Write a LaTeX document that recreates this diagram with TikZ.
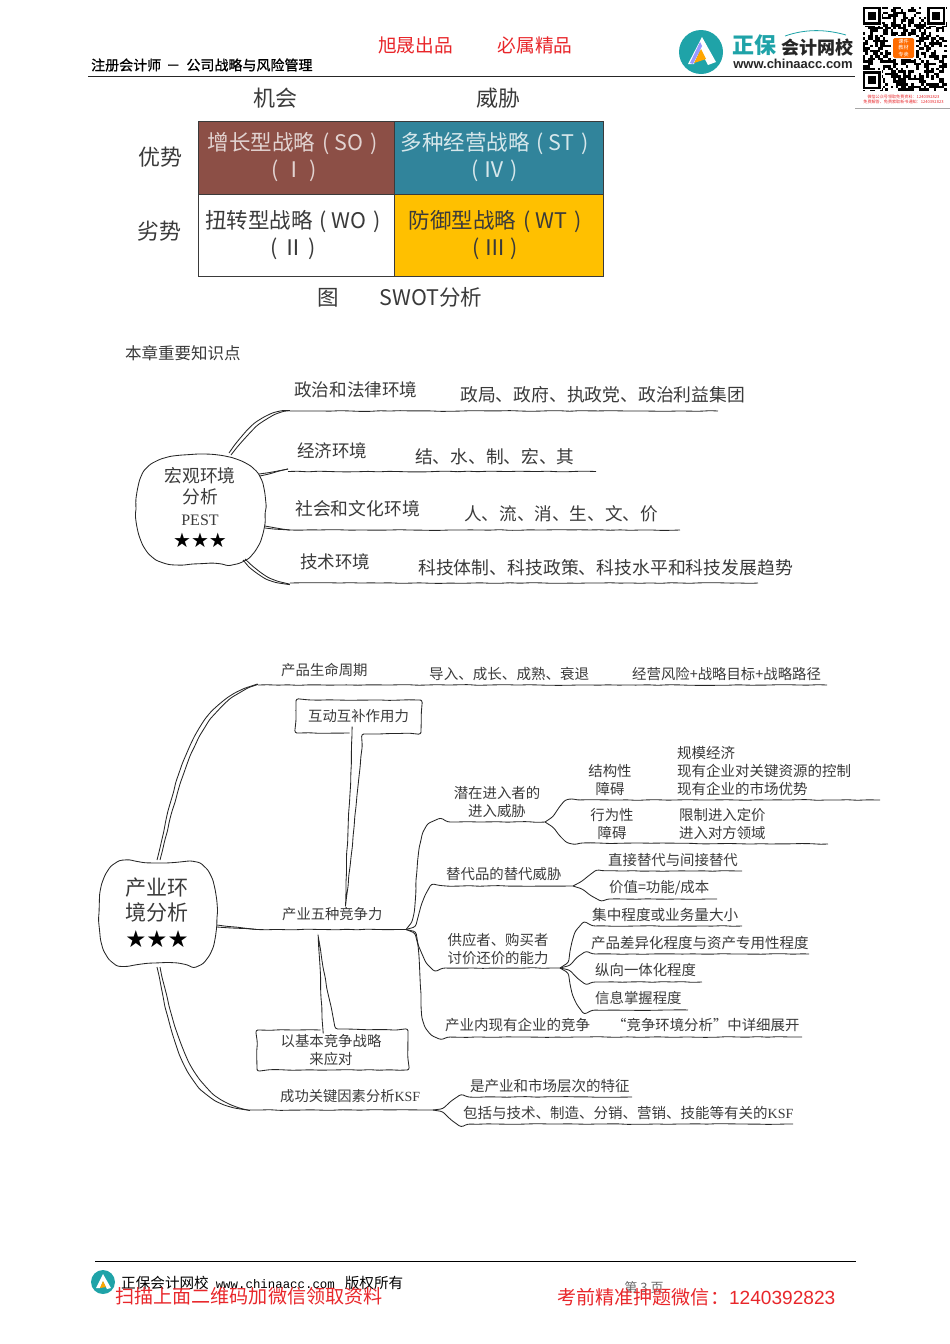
\documentclass[tikz,border=0pt]{standalone}
\usepackage{fontspec}
\setmainfont{Liberation Serif}
\newfontfamily\cjk{Noto Sans CJK SC}
\newfontfamily\djv{DejaVu Sans}
\newfontfamily\lsans{Liberation Sans}
\newfontfamily\lmono{Liberation Mono}
\usetikzlibrary{decorations.pathmorphing}
\definecolor{ink}{HTML}{3A3A3A}
\definecolor{redt}{HTML}{E8262A}
\definecolor{tealc}{HTML}{1FA3A8}
\definecolor{brownc}{HTML}{8C4F46}
\definecolor{bluec}{HTML}{31849B}
\definecolor{yelc}{HTML}{FFC000}
\tikzset{
  sz/.style={font=\cjk\fontsize{#1}{18}\selectfont},
  szl/.style={font=\cjk\fontsize{#1}{27}\selectfont},
  lab/.style={inner sep=0pt,text=ink,align=center},
  lw/.style={lab,anchor=west,align=left},
  sk/.style={draw=black!85,line width=.85pt,decorate,decoration={random steps,segment length=10pt,amplitude=.4pt},rounded corners=2.5pt},
  cell/.style={draw=ink,line width=1pt,inner sep=0pt,anchor=north west},
  redlab/.style={inner sep=0pt,text=redt},
}
\newcommand\gp{\hspace{7pt}}
\begin{document}
\begin{tikzpicture}[x=1pt,y=-1pt]
\useasboundingbox (0,0) rectangle (950,1344);
\pgfmathsetseed{7}
%% header
\node[lw,text=black,sz=14] (hd) at (91,65) {\addfontfeature{FakeBold=1}注册会计师\hspace{2pt} － \hspace{3pt}公司战略与风险管理};
\node[redlab,sz=18.7] (r1) at (415.5,45.5) {旭晟出品};
\node[redlab,sz=18.7] (r2) at (535,45.5) {必属精品};
\coordinate (hl) at (88,76.5); \coordinate (hr) at (855,76.5);
\draw[line width=1pt,black!85] (hl) -- (hr);
% logo
\fill[tealc] (701,52) circle (22);
\fill[white] (688,64) -- (702,37) -- (716,62) -- (708,65) -- (700,50) -- (694,64) -- cycle;
\fill[orange!70!yellow] (694,63) -- (701,49) -- (706,59) -- cycle;
\fill[blue!40!white] (690,63) -- (700,42) -- (702,46) -- (693,64) -- cycle;
\node[lab,text=tealc,sz=22] (z1) at (754,45) {\bfseries 正保};
\node[lab,text=black!85,sz=18] (z2) at (817.5,48) {\bfseries 会计网校};
\node[lab,text=black!85,font=\lsans\bfseries\fontsize{13}{15}\selectfont] (z3) at (793,64) {www.chinaacc.com};
\coordinate (aa) at (785,36); \coordinate (ab) at (846,35);
\draw[tealc,line width=.8pt] (aa) .. controls (805,29) and (825,29) .. (ab);
% QR
\foreach \i in {0,...,32}{\foreach \j in {0,...,32}{
  \pgfmathparse{rnd<.5?1:0}
  \ifnum\pgfmathresult=1 \fill[black] ({862.5+\i*2.55},{6.5+\j*2.55}) rectangle ++(2.55,2.55);\fi
}}
\foreach \fx/\fy in {862.5/6.5,927/6.5,862.5/71}{
  \fill[white] ({\fx-1},{\fy-1}) rectangle ++(20,20);
  \fill[black] (\fx,\fy) rectangle ++(18,18);
  \fill[white] ({\fx+2.5},{\fy+2.5}) rectangle ++(13,13);
  \fill[black] ({\fx+5},{\fy+5}) rectangle ++(8,8);
}
\fill[white] (891,36) rectangle (916,59);
\fill[orange!85!red,rounded corners=1.5pt] (893,38) rectangle (914,58);
\node[lab,text=white,font=\cjk\fontsize{5.2}{6.4}\selectfont] (qrt) at (903.5,48) {课件\\教材\\专卖};
\node[redlab,sz=4.1] (qr1) at (903.5,97) {微信公众号领取免费资料：1240392823};
\node[redlab,sz=4.1] (qr2) at (903.5,102) {免费解答、免费索取新书通知：1240392823};
\coordinate (gl) at (855,108.5); \coordinate (gr) at (950,108.5);
\draw[black!35,line width=.8pt] (gl) -- (gr);
%% SWOT
\node[lab,szl=22] (o) at (275,98.5) {机会};
\node[lab,szl=22] (t) at (498,98.5) {威胁};
\node[lab,szl=22] (s) at (160.5,157) {优势};
\node[lab,szl=22] (w) at (159,231.5) {劣势};
\node[cell,fill=brownc,minimum width=196pt,minimum height=73pt] (so) at (198,121) {};
\node[cell,fill=bluec,minimum width=208.5pt,minimum height=73pt] (st) at (394,121) {};
\node[cell,fill=white,minimum width=196pt,minimum height=82pt] (wo) at (198,194) {};
\node[cell,fill=yelc,minimum width=208.5pt,minimum height=82pt] (wt) at (394,194) {};
\node[lab,text=brownc!25!white,szl=21.5] (so1) at (292.5,157.5) {增长型战略\gp( SO\gp)\\\,( Ⅰ )};
\node[lab,text=bluec!20!white,szl=21.5] (st1) at (494.5,157.5) {多种经营战略\gp( ST\gp)\\( Ⅳ )};
\node[lab,szl=21.5] (wo1) at (293,235.5) {扭转型战略\gp( WO\gp)\\( Ⅱ )};
\node[lab,szl=21.5] (wt1) at (495,235.5) {防御型战略\gp( WT\gp)\\( Ⅲ )};
\node[lab,szl=21.5] (cap1) at (328,297.5) {图};
\node[lab,szl=21.5] (cap2) at (431,297.5) {SWOT分析};
\node[lw,sz=16.5] (kp) at (125,353) {本章重要知识点};
%% Mind map 1
\draw[sk] (136,510) .. controls (136,468) and (150,456) .. (200,454) .. controls (248,456) and (265,470) .. (265,510) .. controls (265,545) and (250,564) .. (225,564) .. controls (205,562) and (190,566) .. (168,564) .. controls (148,558) and (136,540) .. (136,510);
\node[lab,sz=17.8] (a0) at (200,486.5) {宏观环境\\[3pt]分析};
\node[lab,font=\fontsize{16}{18}\selectfont] (a0b) at (200,520) {PEST};
\node[lab,text=black,font=\djv\fontsize{20}{22}\selectfont] (a0c) at (200,540.5) {★★★};
\foreach \n/\x/\y in {c1a/229/453,c1b/290/411,c2a/259/474,c2b/288/469,c3a/265/526,c3b/290/530,c4a/245/559,c4b/290/583}{\coordinate (\n) at (\x,\y);}
\draw[sk] (c1a) .. controls (245,430) and (262,412) .. (c1b);
\draw[sk] (231,455) .. controls (248,433) and (265,414) .. (c1b);
\draw[sk] (c2a) -- (c2b); \draw[sk] (260,476) -- (c2b);
\draw[sk] (c3a) -- (c3b); \draw[sk] (265,528) -- (c3b);
\draw[sk] (c4a) .. controls (258,572) and (272,581) .. (c4b);
\draw[sk] (243,560) .. controls (256,575) and (270,583) .. (c4b);
\foreach \n/\x/\y in {e1/718/411,e2/596/471.5,e3/680/530,e4/758/583}{\coordinate (\n) at (\x,\y);}
\draw[sk] (c1b) -- (e1);
\draw[sk] (c2b) ++(0,2.5) -- (e2);
\draw[sk] (c3b) -- (e3);
\draw[sk] (c4b) -- (e4);
\node[lw,sz=17.6] (a1) at (294,389.5) {政治和法律环境};
\node[lw,sz=17.8] (a1t) at (460,395) {政局、政府、执政党、政治利益集团};
\node[lw,sz=17.5] (a2) at (297,451) {经济环境};
\node[lw,sz=17.7] (a2t) at (415,456.5) {结、水、制、宏、其};
\node[lw,sz=17.8] (a3) at (295,508.5) {社会和文化环境};
\node[lw,sz=17.6] (a3t) at (464,513.5) {人、流、消、生、文、价};
\node[lw,sz=17.5] (a4) at (300,562) {技术环境};
\node[lw,sz=17.85] (a4t) at (418,567.5) {科技体制、科技政策、科技水平和科技发展趋势};
%% Mind map 2
\draw[sk] (99,914) .. controls (99,880) and (108,861) .. (132,861) .. controls (150,863) and (165,863) .. (188,861) .. controls (208,864) and (217,885) .. (217,914) .. controls (217,945) and (208,966) .. (190,965) .. controls (170,962) and (150,962) .. (130,966) .. controls (108,966) and (99,945) .. (99,914);
\node[lab,font=\cjk\fontsize{21}{25}\selectfont] (b0) at (157,900.5) {产业环\\境分析};
\node[lab,text=black,font=\djv\fontsize{23.5}{25}\selectfont] (b0c) at (157,939) {★★★};
\foreach \n/\x/\y in {d1a/157/860,d1b/258/685,d2a/217/927,d2b/257/929.5,d3a/157/967,d3b/250/1110,h/406/929.5}{\coordinate (\n) at (\x,\y);}
\draw[sk] (d1a) .. controls (175,780) and (190,700) .. (d1b);
\draw[sk] (160,860) .. controls (180,780) and (195,705) .. (d1b);
\draw[sk] (d2a) -- (d2b); \draw[sk] (217,925) -- (d2b);
\draw[sk] (d3a) .. controls (175,1060) and (190,1105) .. (d3b);
\draw[sk] (160,967) .. controls (178,1050) and (195,1100) .. (d3b);
\coordinate (e5) at (827,685); \coordinate (e6) at (433,1110);
\draw[sk] (d1b) -- (e5);
\draw[sk] (d2b) -- (h);
\draw[sk] (d3b) -- (e6);
\node[lw,sz=14.4] (b1) at (281,670) {产品生命周期};
\node[lw,sz=14.55] (b1a) at (429,673.5) {导入、成长、成熟、衰退};
\node[lw,sz=14.4] (b1b) at (632,673.5) {经营风险+战略目标+战略路径};
\node[lw,sz=14.3] (b2) at (282,914) {产业五种竞争力};
\node[lw,sz=14.3] (b3) at (280,1096) {成功关键因素分析{\fontsize{14}{16}\rmfamily KSF}};
% callouts
\node[lab,sz=14.4,minimum width=125pt,minimum height=33pt] (cb1) at (358.5,716.5) {互动互补作用力};
\node[lab,sz=14.4,minimum width=151pt,minimum height=40pt] (cb2) at (331,1050) {以基本竞争战略\\来应对};
\coordinate (p1) at (345.5,906); \coordinate (p2) at (318,935);
\draw[sk] (352,733) -- (296,733) -- (296,700) -- (421,700) -- (421,733) -- (363,734) .. controls (358,790) and (352,850) .. (p1) .. controls (346,850) and (351,790) .. (352,733) -- cycle;
\draw[sk] (323,1030) -- (257,1030) -- (257,1070) -- (408,1070) -- (408,1030) -- (337,1029) .. controls (328,1000) and (322,960) .. (p2) .. controls (320,960) and (321,1000) .. (323,1030) -- cycle;
% five forces
\foreach \n/\x/\y in {f1/545/822,f2/573/886,f3/560/968,f4/802/1037,g1/880/800,g2/828/844,g3/742/871,g4/717/899,g5/742/926,g6/809/954,g7/702/982,g8/688/1010,g9/632/1097,g10/793/1124}{\coordinate (\n) at (\x,\y);}
\draw[sk] (h) .. controls (418,915) and (414,880) .. (420,845) .. controls (423,828) and (430,822) .. (445,822) -- (f1);
\draw[sk] (h) .. controls (420,925) and (420,890) .. (437,886) -- (f2);
\draw[sk] (h) .. controls (418,932) and (420,968) .. (440,968) -- (f3);
\draw[sk] (h) .. controls (420,935) and (420,970) .. (421,1005) .. controls (422,1025) and (430,1037) .. (445,1037) -- (f4);
\draw[sk] (f1) .. controls (555,815) and (560,800) .. (575,800) -- (g1);
\draw[sk] (f1) .. controls (555,828) and (560,843) .. (578,843) -- (g2);
\draw[sk] (f2) .. controls (585,880) and (590,872) .. (600,871) -- (g3);
\draw[sk] (f2) .. controls (585,890) and (592,899) .. (605,899) -- (g4);
\draw[sk] (f3) .. controls (572,960) and (568,926) .. (590,926) -- (g5);
\draw[sk] (f3) .. controls (572,965) and (575,954) .. (590,954) -- (g6);
\draw[sk] (f3) .. controls (572,971) and (575,982) .. (590,982) -- (g7);
\draw[sk] (f3) .. controls (572,975) and (570,1010) .. (590,1010) -- (g8);
\draw[sk] (e6) .. controls (445,1108) and (450,1097) .. (465,1097) -- (g9);
\draw[sk] (e6) .. controls (445,1112) and (450,1124) .. (465,1124) -- (g10);
\node[lab,sz=14.4] (n1) at (497,802) {潜在进入者的\\进入威胁};
\node[lab,sz=14.4] (n11) at (610,780.5) {结构性\\障碍};
\node[lw,sz=14.5] (n12) at (677,771) {规模经济\\现有企业对关键资源的控制\\现有企业的市场优势};
\node[lab,sz=14.4] (n13) at (612,824) {行为性\\障碍};
\node[lw,sz=14.4] (n14) at (679,824) {限制进入定价\\进入对方领域};
\node[lw,sz=14.4] (n2) at (446,874) {替代品的替代威胁};
\node[lw,sz=14.4] (n21) at (608,860) {直接替代与间接替代};
\node[lw,sz=14.4] (n22) at (609,888) {价值=功能/成本};
\node[lab,sz=14.4] (n3) at (498,949) {供应者、购买者\\讨价还价的能力};
\node[lw,sz=14.6] (n31) at (592,915) {集中程度或业务量大小};
\node[lw,sz=14.5] (n32) at (591,943) {产品差异化程度与资产专用性程度};
\node[lw,sz=14.4] (n33) at (595,970) {纵向一体化程度};
\node[lw,sz=14.4] (n34) at (595,998) {信息掌握程度};
\node[lw,sz=14.5] (n4) at (445,1025) {产业内现有企业的竞争};
\node[lw,sz=14.4] (n41) at (612,1025) {“竞争环境分析”中详细展开};
\node[lw,sz=14.5] (n51) at (470,1085.5) {是产业和市场层次的特征};
\node[lw,sz=14.5] (n52) at (463,1113) {包括与技术、制造、分销、营销、技能等有关的{\fontsize{14}{16}\rmfamily KSF}};
%% footer
\coordinate (fl) at (95,1261); \coordinate (fr) at (856,1261);
\draw[line width=.9pt,black] (fl) -- (fr);
\fill[tealc] (103,1282) circle (12);
\fill[white] (96,1288) -- (103,1274) -- (111,1288) -- (107,1289) -- (103,1281) -- (100,1288) -- cycle;
\fill[orange!70!yellow] (100,1288) -- (103,1281) -- (106,1287) -- cycle;
\node[lw,text=black,sz=14.6] (ft) at (121,1283) {正保会计网校\hspace{7pt}{\lmono\fontsize{12.4}{14}\selectfont www.chinaacc.com}\hspace{10pt}版权所有};
\node[lab,text=black!60,sz=13] (pg) at (644,1288) {第 3 页};
\node[redlab,anchor=west,sz=19.1] (f1t) at (115,1296.5) {扫描上面二维码加微信领取资料};
\node[redlab,anchor=west,sz=19.1] (f2t) at (557,1297.5) {考前精准押题微信：{\lsans 1240392823}};
\end{tikzpicture}
\end{document}
